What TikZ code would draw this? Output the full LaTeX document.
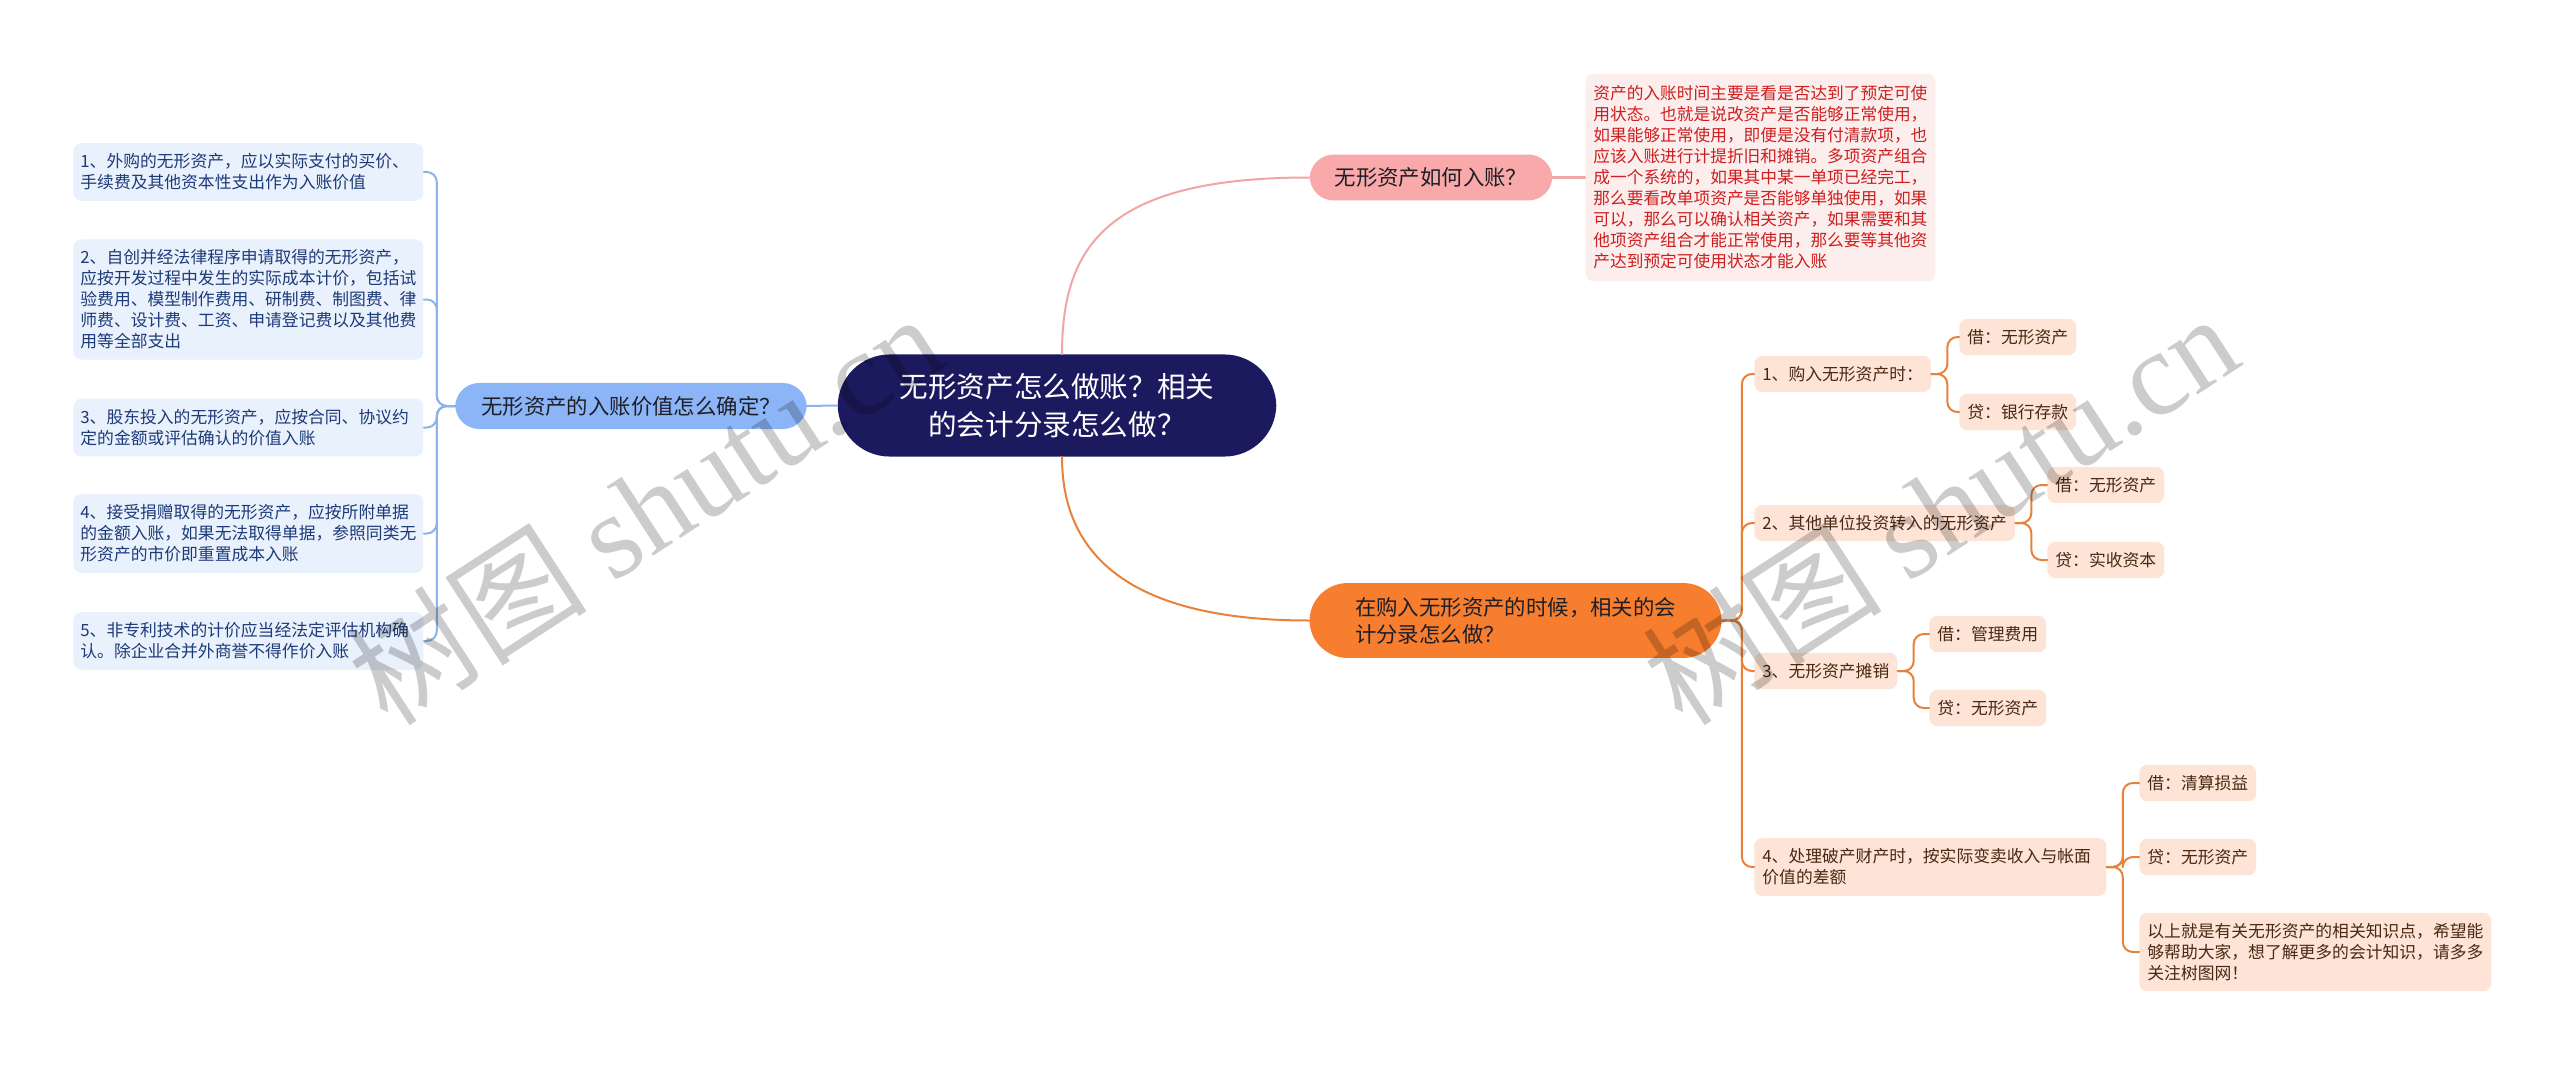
\documentclass[tikz,border=0pt]{standalone}
\usepackage{fontspec}
\setmainfont{Noto Sans CJK SC}
\newfontfamily\wmfont{Liberation Serif}
\definecolor{rootfill}{HTML}{1C1A5E}
\definecolor{pinkfill}{HTML}{F9A9A9}
\definecolor{pinkline}{HTML}{F2A5A5}
\definecolor{notefill}{HTML}{FDEEEE}
\definecolor{notetext}{HTML}{CC1F1F}
\definecolor{bluefill}{HTML}{8CB5F7}
\definecolor{blueline}{HTML}{8DB3EC}
\definecolor{bleaffill}{HTML}{E9F1FD}
\definecolor{bleaftext}{HTML}{1D3A78}
\definecolor{orangefill}{HTML}{F67E2E}
\definecolor{orangeline}{HTML}{E8823A}
\definecolor{oleaffill}{HTML}{FDE4D6}
\definecolor{oleaftext}{HTML}{4A2812}
\definecolor{ink}{HTML}{1E1E28}
\begin{document}
\begin{tikzpicture}[x=0.5pt,y=-0.5pt,line join=round,line cap=round,
	topic/.style={rounded corners=12pt,inner xsep=12.5pt,inner ysep=6.5pt,text=ink,font=\fontsize{10.7pt}{13.5pt}\selectfont},
	bleaf/.style={anchor=west,fill=bleaffill,text=bleaftext,rounded corners=4pt,align=left,text width=168pt,inner xsep=3.5pt,inner ysep=5.2pt,font=\fontsize{8.4pt}{10.5pt}\selectfont},
	oleaf/.style={anchor=west,fill=oleaffill,text=oleaftext,rounded corners=4pt,align=left,inner xsep=4pt,inner ysep=5.2pt,font=\fontsize{8.4pt}{10.5pt}\selectfont},
	bconn/.style={blueline,line width=1pt,rounded corners=5pt},
	oconn/.style={orangeline,line width=1pt,rounded corners=5pt},
	wm/.style={text=black,text opacity=0.2,rotate=33,font=\fontsize{60pt}{60pt}\selectfont}]
	\path[fill=white,use as bounding box] (0,0) rectangle (2560,1065);
	% centre
	\node[fill=rootfill,text=white,rounded corners=26pt,align=center,inner xsep=31pt,inner ysep=9.4pt,font=\fontsize{14.3pt}{19pt}\selectfont] (root) at (1057,405.5) {无形资产怎么做账？相关\\的会计分录怎么做？};
	% top branch
	\node[topic,fill=pinkfill] (when) at (1431,177.5) {无形资产如何入账？};
	\node[anchor=west,fill=notefill,text=notetext,rounded corners=4pt,align=left,inner xsep=4pt,inner ysep=6pt,font=\fontsize{8.35pt}{10.5pt}\selectfont] (whennote) at (1585,177.5) {资产的入账时间主要是看是否达到了预定可使\\用状态。也就是说改资产是否能够正常使用，\\如果能够正常使用，即便是没有付清款项，也\\应该入账进行计提折旧和摊销。多项资产组合\\成一个系统的，如果其中某一单项已经完工，\\那么要看改单项资产是否能够单独使用，如果\\可以，那么可以确认相关资产，如果需要和其\\他项资产组合才能正常使用，那么要等其他资\\产达到预定可使用状态才能入账};
	\draw[pinkline,line width=1pt] ([xshift=2.5pt]root.north) .. controls (1062,246) and (1107,177.5) .. (when.west);
	\draw[pinkline,line width=1pt] (when.east) -- (whennote.west);
	% left branch
	\node[topic,fill=bluefill,inner xsep=13pt] (value) at (631,406) {无形资产的入账价值怎么确定？};
	\node[bleaf] (v1) at (73,172) {1、外购的无形资产，应以实际支付的买价、\\手续费及其他资本性支出作为入账价值};
	\node[bleaf] (v2) at (73,299.5) {2、自创并经法律程序申请取得的无形资产，\\应按开发过程中发生的实际成本计价，包括试\\验费用、模型制作费用、研制费、制图费、律\\师费、设计费、工资、申请登记费以及其他费\\用等全部支出};
	\node[bleaf] (v3) at (73,427.5) {3、股东投入的无形资产，应按合同、协议约\\定的金额或评估确认的价值入账};
	\node[bleaf] (v4) at (73,533.5) {4、接受捐赠取得的无形资产，应按所附单据\\的金额入账，如果无法取得单据，参照同类无\\形资产的市价即重置成本入账};
	\node[bleaf] (v5) at (73,641) {5、非专利技术的计价应当经法定评估机构确\\认。除企业合并外商誉不得作价入账};
	\draw[bconn] (root.west) -- (value.east);
	\foreach \v in {v1,v2,v3,v4,v5}
		\draw[bconn] (value.west) -- ++(-18,0) |- (\v.east);
	% bottom branch
	\node[topic,fill=orangefill,rounded corners=19pt,align=left,inner xsep=22.75pt,inner ysep=7pt] (entry) at (1515.5,620.5) {在购入无形资产的时候，相关的会\\计分录怎么做？};
	\draw[orangeline,line width=1pt] ([xshift=2.5pt]root.south) .. controls (1062,540) and (1110,620.5) .. (entry.west);
	\node[oleaf] (buy) at (1754,374) {1、购入无形资产时：};
	\node[oleaf] (buyd) at (1959,337) {借：无形资产};
	\node[oleaf] (buyc) at (1959,412) {贷：银行存款};
	\node[oleaf] (inv) at (1754,523) {2、其他单位投资转入的无形资产};
	\node[oleaf] (invd) at (2047,485) {借：无形资产};
	\node[oleaf] (invc) at (2047,560) {贷：实收资本};
	\node[oleaf] (amort) at (1754,671) {3、无形资产摊销};
	\node[oleaf] (amortd) at (1929,634) {借：管理费用};
	\node[oleaf] (amortc) at (1929,708) {贷：无形资产};
	\node[oleaf,text width=168pt] (bank) at (1754,867) {4、处理破产财产时，按实际变卖收入与帐面\\价值的差额};
	\node[oleaf] (bankd) at (2139,783) {借：清算损益};
	\node[oleaf] (bankc) at (2139,857) {贷：无形资产};
	\node[oleaf] (banke) at (2139,952) {以上就是有关无形资产的相关知识点，希望能\\够帮助大家，想了解更多的会计知识，请多多\\关注树图网！};
	\foreach \r in {buy,inv,amort,bank}
		\draw[oconn] (entry.east) -- ++(20,0) |- (\r.west);
	\foreach \p/\c in {buy/buyd,buy/buyc,inv/invd,inv/invc,amort/amortd,amort/amortc,bank/bankd,bank/bankc,bank/banke}
		\draw[oconn] (\p.east) -- ++(16,0) |- (\c.west);
	% watermark
	\node[wm] (wmleft) at (645,508) {树图 {\wmfont shutu.cn}};
	\node[wm] (wmright) at (1940,508) {树图 {\wmfont shutu.cn}};
\end{tikzpicture}
\end{document}
